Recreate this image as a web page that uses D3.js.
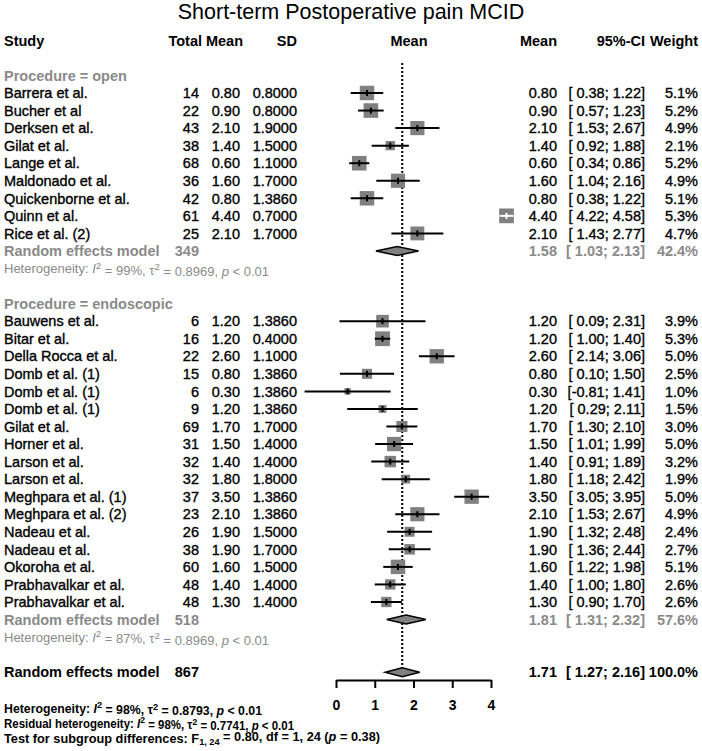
<!DOCTYPE html>
<html>
<head>
<meta charset="utf-8">
<script src="https://cdn.jsdelivr.net/npm/d3@7"></script>
<style>
  body { margin: 0; background: #fff; }
  svg text { font-family: "Liberation Sans", Arial, sans-serif; white-space: pre; }
</style>
</head>
<body>
<svg width="702" height="751"></svg>
<script>
// study level data, two subgroups
var openStudies = ["Barrera et al.", "Bucher et al", "Derksen et al.", "Gilat et al.", "Lange et al.",
  "Maldonado et al.", "Quickenborne et al.", "Quinn et al.", "Rice et al. (2)"];
var openTotal = [14, 22, 43, 38, 68, 36, 42, 61, 25];
var openMean = [0.80, 0.90, 2.10, 1.40, 0.60, 1.60, 0.80, 4.40, 2.10];
var openSD = ["0.8000", "0.8000", "1.9000", "1.5000", "1.1000", "1.7000", "1.3860", "0.7000", "1.7000"];
var openLower = [0.38, 0.57, 1.53, 0.92, 0.34, 1.04, 0.38, 4.22, 1.43];
var openUpper = [1.22, 1.23, 2.67, 1.88, 0.86, 2.16, 1.22, 4.58, 2.77];
var openWeight = [5.1, 5.2, 4.9, 2.1, 5.2, 4.9, 5.1, 5.3, 4.7];

var endoStudies = ["Bauwens et al.", "Bitar et al.", "Della Rocca et al.", "Domb et al. (1)", "Domb et al. (1)",
  "Domb et al. (1)", "Gilat et al.", "Horner et al.", "Larson et al.", "Larson et al.", "Meghpara et al. (1)",
  "Meghpara et al. (2)", "Nadeau et al.", "Nadeau et al.", "Okoroha et al.", "Prabhavalkar et al.", "Prabhavalkar et al."];
var endoTotal = [6, 16, 22, 15, 6, 9, 69, 31, 32, 32, 37, 23, 26, 38, 60, 48, 48];
var endoMean = [1.20, 1.20, 2.60, 0.80, 0.30, 1.20, 1.70, 1.50, 1.40, 1.80, 3.50, 2.10, 1.90, 1.90, 1.60, 1.40, 1.30];
var endoSD = ["1.3860", "0.4000", "1.1000", "1.3860", "1.3860", "1.3860", "1.7000", "1.4000", "1.4000", "1.8000",
  "1.3860", "1.3860", "1.5000", "1.7000", "1.5000", "1.4000", "1.4000"];
var endoLower = [0.09, 1.00, 2.14, 0.10, -0.81, 0.29, 1.30, 1.01, 0.91, 1.18, 3.05, 1.53, 1.32, 1.36, 1.22, 1.00, 0.90];
var endoUpper = [2.31, 1.40, 3.06, 1.50, 1.41, 2.11, 2.10, 1.99, 1.89, 2.42, 3.95, 2.67, 2.48, 2.44, 1.98, 1.80, 1.70];
var endoWeight = [3.9, 5.3, 5.0, 2.5, 1.0, 1.5, 3.0, 5.0, 3.2, 1.9, 5.0, 4.9, 2.4, 2.7, 5.1, 2.6, 2.6];

// pooled estimates: open, endoscopic, overall
var pooledLabel = ["Random effects model", "Random effects model", "Random effects model"];
var pooledTotal = [349, 518, 867];
var pooledMean = [1.58, 1.81, 1.71];
var pooledLower = [1.03, 1.31, 1.27];
var pooledUpper = [2.13, 2.32, 2.16];
var pooledWeight = [42.4, 57.6, 100.0];

var hetI2 = ["99%", "87%"];
var hetTau2 = ["0.8969", "0.8969"];
var xTicks = [0, 1, 2, 3, 4];

var svg = d3.select("svg");
var grey = "#8a8a8a";

var x = d3.scaleLinear().domain([0, 4]).range([336, 491]);
// row index -> y centre (row 0 = first study)
var row = d3.scaleLinear().domain([0, 29]).range([93, 602]);

function fmt2(v) { return v.toFixed(2); }
function ciText(lo, hi) {
  var a = lo < 0 ? fmt2(lo) : " " + fmt2(lo);
  return "[" + a + "; " + fmt2(hi) + "]";
}
function txt(g, xx, yy, s, opts) {
  opts = opts || {};
  var col = opts.color || "#000";
  var t = g.append("text")
    .attr("x", xx).attr("y", yy).attr("dy", "0.36em")
    .attr("text-anchor", opts.anchor || "start")
    .attr("font-size", opts.size || 14.5)
    .attr("font-weight", opts.bold ? "bold" : "normal")
    .attr("fill", col)
    .text(s);
  if (!opts.bold) t.attr("stroke", col).attr("stroke-width", 0.35);
  return t;
}

// title
svg.append("text").attr("x", 351).attr("y", 19).attr("text-anchor", "middle")
  .attr("font-size", 21.5)
  .text("Short-term Postoperative pain MCID");

// headers
var hy = 41;
txt(svg, 4, hy, "Study", {bold: true});
txt(svg, 202, hy, "Total", {bold: true, anchor: "end"});
txt(svg, 243, hy, "Mean", {bold: true, anchor: "end"});
txt(svg, 297, hy, "SD", {bold: true, anchor: "end"});
txt(svg, 409, hy, "Mean", {bold: true, anchor: "middle"});
txt(svg, 557, hy, "Mean", {bold: true, anchor: "end"});
txt(svg, 645, hy, "95%-CI", {bold: true, anchor: "end"});
txt(svg, 698, hy, "Weight", {bold: true, anchor: "end"});

// dotted line at overall estimate
svg.append("line")
  .attr("x1", x(pooledMean[2])).attr("x2", x(pooledMean[2]))
  .attr("y1", 63).attr("y2", row(33) - 4)
  .attr("stroke", "#000").attr("stroke-width", 2).attr("stroke-dasharray", "2,2");

function hetLine(g, yy, i2, tau2, pTxt, opts) {
  var t = g.append("text").attr("x", 4).attr("y", yy).attr("dy", "0.36em")
    .attr("font-size", opts.size).attr("font-weight", opts.bold ? "bold" : "normal")
    .attr("fill", opts.color);
  if (opts.len) t.attr("textLength", opts.len).attr("lengthAdjust", "spacingAndGlyphs");
  t.append("tspan").text(opts.prefix);
  t.append("tspan").attr("font-style", "italic").text("I");
  t.append("tspan").attr("dy", "-0.45em").attr("font-size", opts.size * 0.75).text("2");
  t.append("tspan").attr("dy", "0.45em").text(" = " + i2 + ", \u03c4");
  t.append("tspan").attr("dy", "-0.45em").attr("font-size", opts.size * 0.75).text("2");
  t.append("tspan").attr("dy", "0.45em").text(" = " + tau2 + ", ");
  t.append("tspan").attr("font-style", "italic").text("p");
  t.append("tspan").text(pTxt);
}

function drawGroup(name, r0, studies, total, mean, sd, lower, upper, weight, gi) {
  txt(svg, 4, row(r0 - 1), "Procedure = " + name, {bold: true, color: grey});
  var data = studies.map(function(s, i) {
    return {study: s, total: total[i], mean: mean[i], sd: sd[i], lo: lower[i], hi: upper[i], w: weight[i], r: r0 + i};
  });
  var g = svg.append("g");
  data.forEach(function(d) {
    var yy = row(d.r);
    txt(g, 4, yy, d.study);
    txt(g, 199, yy, String(d.total), {anchor: "end"});
    txt(g, 240, yy, fmt2(d.mean), {anchor: "end"});
    txt(g, 297, yy, d.sd, {anchor: "end"});
    txt(g, 557, yy, fmt2(d.mean), {anchor: "end"});
    txt(g, 645, yy, ciText(d.lo, d.hi), {anchor: "end"});
    txt(g, 698, yy, d.w.toFixed(1) + "%", {anchor: "end"});

    var side = 6.4 * Math.sqrt(d.w);
    var cx = x(d.mean);
    g.append("rect")
      .attr("x", cx - side / 2).attr("y", yy - side / 2)
      .attr("width", side).attr("height", side)
      .attr("fill", "#808080");
    var inside = (x(d.hi) - x(d.lo)) < side;
    var lineCol = inside ? "#fff" : "#000";
    var lo = Math.max(d.lo, -0.85);
    g.append("line")
      .attr("x1", x(lo)).attr("x2", x(d.hi)).attr("y1", yy).attr("y2", yy)
      .attr("stroke", lineCol).attr("stroke-width", 2);
    g.append("line")
      .attr("x1", cx).attr("x2", cx).attr("y1", yy - 3).attr("y2", yy + 3)
      .attr("stroke", lineCol).attr("stroke-width", 2);
  });

  // pooled row
  var pr = r0 + studies.length;
  var py = row(pr);
  txt(svg, 4, py, pooledLabel[gi], {bold: true, color: grey});
  txt(svg, 199, py, String(pooledTotal[gi]), {bold: true, color: grey, anchor: "end"});
  txt(svg, 557, py, fmt2(pooledMean[gi]), {bold: true, color: grey, anchor: "end"});
  txt(svg, 645, py, ciText(pooledLower[gi], pooledUpper[gi]), {bold: true, color: grey, anchor: "end"});
  txt(svg, 698, py, pooledWeight[gi].toFixed(1) + "%", {bold: true, color: grey, anchor: "end"});
  diamond(gi, py);
  hetLine(svg, row(pr + 1), hetI2[gi], hetTau2[gi], " < 0.01", {size: 13, color: grey, prefix: "Heterogeneity: "});
}

function diamond(gi, yy) {
  var h = 4.5;
  var pts = [[x(pooledLower[gi]), yy], [x(pooledMean[gi]), yy - h], [x(pooledUpper[gi]), yy], [x(pooledMean[gi]), yy + h]];
  svg.append("path")
    .attr("d", d3.line()(pts) + "Z")
    .attr("fill", "#808080").attr("stroke", "#000").attr("stroke-width", 1.5);
}

drawGroup("open", 0, openStudies, openTotal, openMean, openSD, openLower, openUpper, openWeight, 0);
drawGroup("endoscopic", 13, endoStudies, endoTotal, endoMean, endoSD, endoLower, endoUpper, endoWeight, 1);

// overall
var oy = row(33);
txt(svg, 4, oy, pooledLabel[2], {bold: true});
txt(svg, 199, oy, String(pooledTotal[2]), {bold: true, anchor: "end"});
txt(svg, 557, oy, fmt2(pooledMean[2]), {bold: true, anchor: "end"});
txt(svg, 645, oy, ciText(pooledLower[2], pooledUpper[2]), {bold: true, anchor: "end"});
txt(svg, 698, oy, pooledWeight[2].toFixed(1) + "%", {bold: true, anchor: "end"});
diamond(2, oy);

// x axis
var axis = svg.append("g")
  .attr("transform", "translate(0,680)")
  .call(d3.axisBottom(x).tickValues(xTicks).tickFormat(d3.format("d")).tickSize(8).tickPadding(12).tickSizeOuter(0));
axis.select(".domain").attr("stroke-width", 2);
axis.selectAll(".tick line").attr("stroke-width", 2);
axis.selectAll(".tick text")
  .attr("font-size", 14).attr("font-weight", "bold")
  .style("font-family", "'Liberation Sans', Arial, sans-serif");

// bottom statistics
hetLine(svg, 708, "98%", "0.8793", " < 0.01", {size: 12.5, bold: true, color: "#000", prefix: "Heterogeneity: ", len: 258});
hetLine(svg, 723, "98%", "0.7741", " < 0.01", {size: 12.5, bold: true, color: "#000", prefix: "Residual heterogeneity: ", len: 290});
var tt = svg.append("text").attr("x", 4).attr("y", 738).attr("dy", "0.36em")
  .attr("font-size", 12.5).attr("font-weight", "bold")
  .attr("textLength", 376).attr("lengthAdjust", "spacingAndGlyphs");
tt.append("tspan").text("Test for subgroup differences: F");
tt.append("tspan").attr("dy", "0.3em").attr("font-size", 9).text("1, 24");
tt.append("tspan").attr("dy", "-0.3em").text(" = 0.80, df = 1, 24 (");
tt.append("tspan").attr("font-style", "italic").text("p");
tt.append("tspan").text(" = 0.38)");
</script>
</body>
</html>
